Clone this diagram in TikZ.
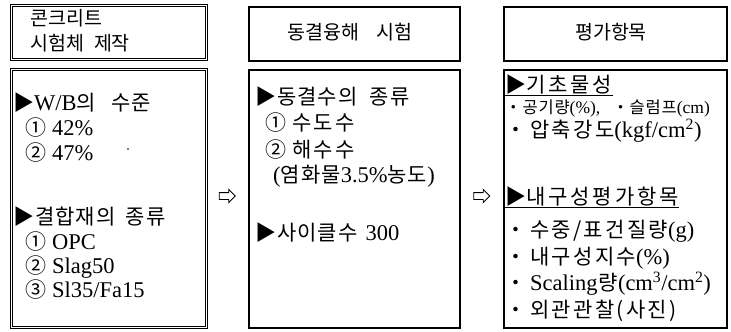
\documentclass[tikz,border=0pt]{standalone}
\usepackage{fontspec}
\setmainfont{Liberation Serif}
\newfontfamily\kr{Noto Sans CJK KR}[LetterSpace=5]
\newfontfamily\krw{Noto Sans CJK KR}[LetterSpace=11]
\newfontfamily\krh{Noto Sans CJK KR}[LetterSpace=14]
\newfontfamily\krt{Noto Sans CJK KR}
\newcommand\lat[1]{{\fontsize{22.5}{21}\selectfont #1}}
\newcommand\slat[1]{{\fontsize{17.5}{17}\selectfont #1}}
\newcommand\bul{{\kr ・}\hspace{4pt}}
\usetikzlibrary{shapes.arrows}
\tikzset{
  dbox/.style={draw, double, double distance=1.6pt, line width=0.7pt, inner sep=0pt},
  tbox/.style={draw, line width=2.2pt, inner sep=0pt},
  txt/.style={anchor=west, inner sep=0pt, text height=16pt, text depth=1pt, font=\fontsize{21}{21}\selectfont},
  small/.style={txt, font=\fontsize{16.5}{16.5}\selectfont},
  ttl/.style={anchor=center, inner sep=0pt, text height=15pt, text depth=1pt, font=\fontsize{19.5}{19.5}\selectfont},
  uline/.style={line width=1.1pt},
  arrowsym/.style={shape=single arrow, draw, line width=0.9pt, inner sep=1.5pt, text height=3pt, text depth=0pt,
    minimum height=16pt, single arrow head extend=3pt}
}
\begin{document}
\begin{tikzpicture}[x=1pt,y=-1pt]
\useasboundingbox (0,0) rectangle (731,332);
% boxes
\node[dbox, minimum width=195pt, minimum height=54pt] (b1t) at (109,32.5) {};
\node[dbox, minimum width=195pt, minimum height=258pt] (b1b) at (109,198.5) {};
\node[tbox, minimum width=211pt, minimum height=54pt] (b2t) at (354.5,34) {};
\node[tbox, minimum width=211pt, minimum height=258pt] (b2b) at (354.5,199) {};
\node[tbox, minimum width=223pt, minimum height=54pt] (b3t) at (615.5,34) {};
\node[tbox, minimum width=223pt, minimum height=258pt] (b3b) at (615.5,199) {};
% arrows
\node[arrowsym] (a1) at (225.5,196) {};
\node[arrowsym] (a2) at (480,196) {};
% titles
\node[txt, font=\fontsize{19.5}{19.5}\selectfont] (t1a) at (30,18) {\krt 콘크리트};
\node[txt, font=\fontsize{19.5}{19.5}\selectfont] (t1b) at (30,43) {\krt 시험체\hspace{10pt}제작};
\node[ttl] (t2) at (350,32) {\krt 동결융해\hspace{17pt}시험};
\node[ttl] (t3) at (611,32) {\krt 평가항목};
% box 1
\node[txt] (l11) at (13,103) {{\kr ▶}\lat{W/B}{\kr 의}\hspace{15pt}{\kr 수준}};
\node[txt] (l12) at (25,128) {{\kr ①}\hspace{6pt}\lat{42\%}};
\node[txt] (l13) at (25,153) {{\kr ②}\hspace{6pt}\lat{47\%}};
\fill (128,149) circle (0.9pt);
\node[txt] (l14) at (13,217) {{\kr ▶결합재의}\hspace{10pt}{\kr 종류}};
\node[txt] (l15) at (25,242) {{\kr ①}\hspace{6pt}\lat{OPC}};
\node[txt] (l16) at (25,266) {{\kr ②}\hspace{6pt}\lat{Slag50}};
\node[txt] (l17) at (25,290) {{\kr ③}\hspace{6pt}\lat{Sl35/Fa15}};
% box 2
\node[txt] (l21) at (255,97) {{\kr ▶동결수의}\hspace{12pt}{\kr 종류}};
\node[txt] (l22) at (265,123) {{\kr ①}\hspace{6pt}{\krw 수도수}};
\node[txt] (l23) at (265,150) {{\kr ②}\hspace{6pt}{\krw 해수수}};
\node[txt] (l24) at (273,175) {\lat{(}{\kr 염화물}\lat{3.5\%}{\kr 농도}\lat{)}};
\node[txt] (l25) at (255,233) {{\kr ▶사이클수}\hspace{8pt}\lat{300}};
% box 3
\node[txt] (l31) at (505,85) {{\kr ▶}{\krh 기초물성}};
\draw[uline] ([yshift=-1.5pt]l31.south west) -- ([yshift=-1.5pt]l31.south east);
\node[small] (l32) at (505,106) {{\kr ・공기량}\slat{(\%),}\hspace{12pt}{\kr ・슬럼프}\slat{(cm)}};
\node[txt] (l33) at (505,130) {\bul{\krw 압축강도}\lat{(kgf/cm\textsuperscript{2})}};
\node[txt] (l34) at (505,197) {{\kr ▶}{\krh 내구성평가항목}};
\draw[uline] ([yshift=-1.5pt]l34.south west) -- ([yshift=-1.5pt]l34.south east);
\node[txt] (l35) at (505,230) {\bul{\krw 수중/표건질량}\lat{(g)}};
\node[txt] (l36) at (505,257) {\bul{\krw 내구성지수}\lat{(\%)}};
\node[txt] (l37) at (505,283) {\bul\lat{Scaling}\hspace{1pt}{\kr 량}\lat{(cm\textsuperscript{3}/cm\textsuperscript{2})}};
\node[txt] (l38) at (505,310) {\bul{\krw 외관관찰(사진)}};
\end{tikzpicture}
\end{document}
